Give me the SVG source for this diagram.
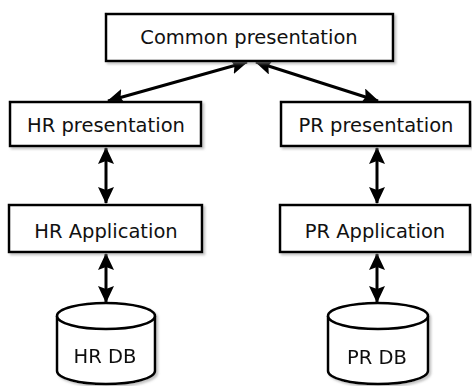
<svg xmlns="http://www.w3.org/2000/svg" width="472" height="386" viewBox="0 0 472 386">
  <style>
    .box { fill: #ffffff; stroke: #000000; stroke-width: 2.5; filter: url(#shadow); }
    .lbl { font-family: "DejaVu Sans", Verdana, sans-serif; font-size: 19.5px; fill: #111111; text-anchor: middle; }
    .conn { stroke: #000000; stroke-width: 3; fill: none; marker-start: url(#head); marker-end: url(#head); }
    .cyl { fill: #ffffff; stroke: #000000; stroke-width: 2.5; }
  </style>
  <defs>
    <filter id="shadow" x="-10%" y="-10%" width="130%" height="140%">
      <feDropShadow dx="2" dy="2" stdDeviation="1" flood-color="#888888" flood-opacity="0.5"/>
    </filter>
    <marker id="head" viewBox="0 0 17 16" markerWidth="17" markerHeight="16" refX="16" refY="8" orient="auto-start-reverse" markerUnits="userSpaceOnUse">
      <path d="M0,0 L17,8 L0,16 L3,8 Z" fill="#000000"/>
    </marker>
  </defs>
  <rect width="472" height="386" fill="#ffffff"/>

  <g id="connectors">
    <line class="conn" x1="247" y1="62" x2="108" y2="101"/>
    <line class="conn" x1="256" y1="62" x2="378" y2="101"/>
    <line class="conn" x1="106" y1="148" x2="106" y2="203"/>
    <line class="conn" x1="106" y1="254" x2="106" y2="302"/>
    <line class="conn" x1="377" y1="148" x2="377" y2="203"/>
    <line class="conn" x1="377" y1="254" x2="377" y2="302"/>
  </g>

  <g id="common">
    <rect class="box" x="106" y="14" width="287" height="47"/>
    <text class="lbl" x="249" y="44">Common presentation</text>
  </g>
  <g id="hr-presentation">
    <rect class="box" x="10" y="102" width="191" height="44"/>
    <text class="lbl" x="106" y="132">HR presentation</text>
  </g>
  <g id="pr-presentation">
    <rect class="box" x="281" y="102" width="189" height="44"/>
    <text class="lbl" x="376" y="132">PR presentation</text>
  </g>
  <g id="hr-application">
    <rect class="box" x="9" y="205" width="193" height="47"/>
    <text class="lbl" x="106" y="238">HR Application</text>
  </g>
  <g id="pr-application">
    <rect class="box" x="280" y="205" width="190" height="47"/>
    <text class="lbl" x="375" y="238">PR Application</text>
  </g>
  <g id="hr-db" filter="url(#shadow)">
    <path class="cyl" d="M57,316 A49,13 0 0,1 155,316 L155,371 A49,13 0 0,1 57,371 Z"/>
    <path class="cyl" d="M57,316 A49,13 0 0,0 155,316"/>
    <text class="lbl" x="105" y="363">HR DB</text>
  </g>
  <g id="pr-db" filter="url(#shadow)">
    <path class="cyl" d="M328,316 A50,13 0 0,1 428,316 L428,371 A50,13 0 0,1 328,371 Z"/>
    <path class="cyl" d="M328,316 A50,13 0 0,0 428,316"/>
    <text class="lbl" x="377" y="364">PR DB</text>
  </g>
</svg>
